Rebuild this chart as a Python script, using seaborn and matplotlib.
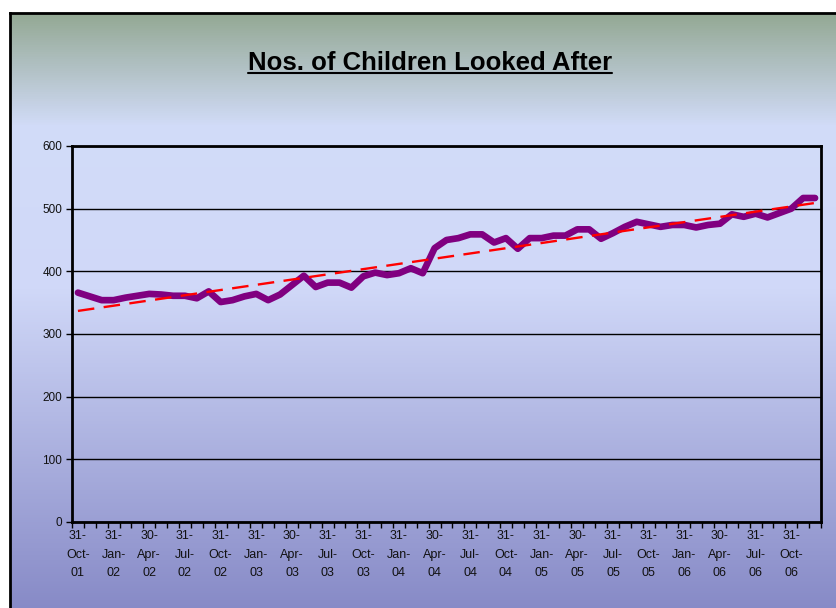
import numpy as np
import matplotlib
matplotlib.use("Agg")
import matplotlib.pyplot as plt
import seaborn as sns
from matplotlib.colors import LinearSegmentedColormap
from matplotlib.lines import Line2D

# monthly counts, 31-Oct-01 .. Dec-06
children = [366, 360, 354, 354, 358, 361, 364, 363, 361, 361,
            357, 368, 351, 354, 360, 364, 354, 363, 378, 393,
            375, 382, 382, 374, 392, 398, 394, 397, 405, 397,
            437, 450, 453, 459, 459, 446, 453, 436, 453, 453,
            457, 457, 467, 467, 452, 461, 471, 479, 475, 471,
            474, 474, 470, 474, 476, 491, 487, 492, 486, 493,
            500, 517, 517]

tick_labels = ["31-\nOct-\n01", "31-\nJan-\n02", "30-\nApr-\n02", "31-\nJul-\n02",
               "31-\nOct-\n02", "31-\nJan-\n03", "30-\nApr-\n03", "31-\nJul-\n03",
               "31-\nOct-\n03", "31-\nJan-\n04", "30-\nApr-\n04", "31-\nJul-\n04",
               "31-\nOct-\n04", "31-\nJan-\n05", "30-\nApr-\n05", "31-\nJul-\n05",
               "31-\nOct-\n05", "31-\nJan-\n06", "30-\nApr-\n06", "31-\nJul-\n06",
               "31-\nOct-\n06"]

title = "Nos. of Children Looked After"

sns.set_theme(style="white")
plt.rcParams["font.family"] = ["Liberation Sans", "DejaVu Sans"]

W, H = 836, 608
fig = plt.figure(figsize=(W / 100, H / 100), dpi=100)
fig.patch.set_facecolor("white")

# ── gradient background box ───────────────────────────────────────────
bg = fig.add_axes([10 / W, -0.01, 1.0, 1 - 13 / H + 0.01])
cmap = LinearSegmentedColormap.from_list(
    "bg", [(0.0, "#93a893"), (0.19, "#d2dcf9"), (0.46, "#d0d8f8"), (1.0, "#8689c6")])
grad = np.linspace(0, 1, 512).reshape(-1, 1)
bg.imshow(grad, cmap=cmap, aspect="auto", extent=[0, 1, 0, 1], origin="upper")
bg.set_xticks([])
bg.set_yticks([])
for s in ["left", "top"]:
    bg.spines[s].set_color("black")
    bg.spines[s].set_linewidth(2)
for s in ["right", "bottom"]:
    bg.spines[s].set_visible(False)
bg.set_zorder(-10)

# ── main chart ────────────────────────────────────────────────────────
ax = fig.add_axes([72 / W, 1 - 522 / H, (821 - 72) / W, (522 - 146) / H])
ax.set_facecolor("none")

x = np.arange(len(children))
sns.lineplot(x=x, y=children, color="#800080", lw=4.8, ax=ax,
             solid_joinstyle="round", solid_capstyle="round", zorder=3)
sns.regplot(x=x, y=children, scatter=False, ci=None, ax=ax,
            line_kws=dict(color="red", lw=1.7, ls=(0, (7, 4)), zorder=4))

ax.set_xlim(-0.5, len(children) - 0.5)
ax.set_ylim(0, 600)
ax.set_yticks(range(0, 700, 100))
ax.yaxis.grid(True, color="black", lw=1)
ax.set_axisbelow(True)
ax.set_xlabel("")
ax.set_ylabel("")

# month boundary ticks, labels every quarter
ax.set_xticks(np.arange(-0.5, len(children) + 0.5, 1))
ax.set_xticklabels([])
ax.set_xticks(np.arange(0, len(children), 3)[:len(tick_labels)], tick_labels, minor=True)
ax.tick_params(axis="x", which="major", bottom=True, direction="out", length=4,
               width=1, color="black")
ax.tick_params(axis="x", which="minor", bottom=True, length=0, pad=6,
               labelsize=9, labelcolor="#111111")
for t in ax.get_xticklabels(minor=True):
    t.set_linespacing(1.7)
ax.tick_params(axis="y", left=True, direction="out", length=4, width=1,
               color="black", pad=3, labelsize=8.5, labelcolor="#111111")

for s in ax.spines.values():
    s.set_color("black")
    s.set_linewidth(2)

# ── title with underline ──────────────────────────────────────────────
t = fig.text(430 / W, 1 - 70 / H, title, ha="center", va="baseline",
             fontsize=18.5, fontweight="bold", color="black")
fig.canvas.draw()
bb = t.get_window_extent().transformed(fig.transFigure.inverted())
uy = 1 - 72.8 / H
fig.add_artist(Line2D([bb.x0, bb.x1], [uy, uy], transform=fig.transFigure,
                      color="black", lw=1.5))

fig.savefig("out.png", dpi=100)
